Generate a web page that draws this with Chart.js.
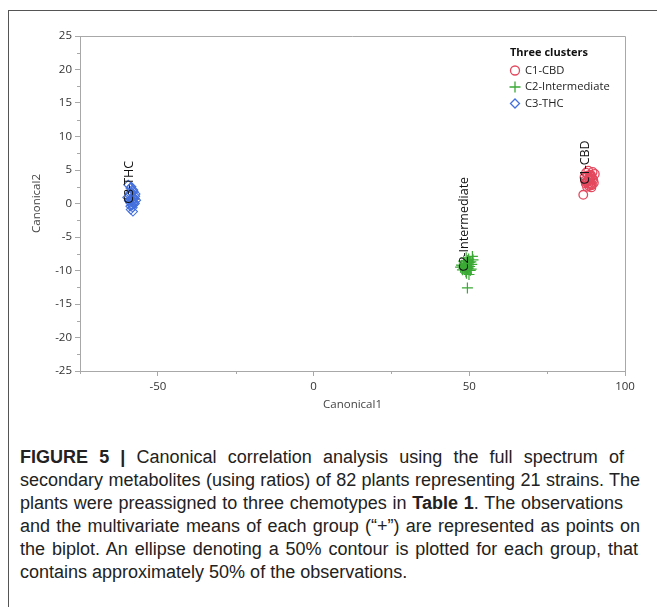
<!DOCTYPE html>
<html>
<head>
<meta charset="utf-8">
<script src="https://cdn.jsdelivr.net/npm/chart.js@4"></script>
<style>
  body { margin: 0; background: #fff; width: 657px; height: 607px; overflow: hidden; position: relative; }
  #frame { position: absolute; left: 8px; top: 10px; width: 700px; height: 700px; border: 1.5px solid #555; }
  #wrap { position: absolute; left: 0; top: 0; width: 657px; height: 425px; }
  #caption {
    position: absolute; left: 20px; top: 446px;
    font-family: "Liberation Sans", Arial, sans-serif; font-size: 18px; line-height: 23px;
    color: #222; white-space: nowrap;
  }
  #caption span { display: block; text-align: justify; text-align-last: justify; }
  #caption span.last { text-align-last: left; }
</style>
</head>
<body>
<div id="frame"></div>
<div id="wrap"><canvas id="cca"></canvas></div>
<div id="caption">
<span style="width:604px"><b>FIGURE 5 |</b> Canonical correlation analysis using the full spectrum of</span>
<span style="width:620px">secondary metabolites (using ratios) of 82 plants representing 21 strains. The</span>
<span style="width:603px">plants were preassigned to three chemotypes in <b>Table 1</b>. The observations</span>
<span style="width:620px">and the multivariate means of each group (“+”) are represented as points on</span>
<span style="width:618px">the biplot. An ellipse denoting a 50% contour is plotted for each group, that</span>
<span class="last">contains approximately 50% of the observations.</span>
</div>
<script>
// valores (aproximados)
const groupNames = ['C1-CBD', 'C2-Intermediate', 'C3-THC'];
const meanLabels = ['C1-CBD', 'C2-Intermediate', 'C3-THC'];

const cbdX = [87.5, 88.2, 89.0, 89.6, 90.3, 87.0, 88.6, 89.3, 88.0, 87.4, 88.9, 89.8, 88.4, 87.8, 89.1, 88.5, 90.0, 87.2, 88.8, 89.5, 88.1, 87.6, 89.2, 88.3, 88.7, 89.4, 86.6];
const cbdY = [4.6, 4.9, 4.3, 4.7, 4.4, 3.9, 3.6, 4.0, 3.3, 3.0, 2.9, 3.5, 2.6, 2.5, 2.7, 3.8, 3.1, 3.4, 4.1, 3.7, 4.2, 3.2, 2.4, 3.0, 3.5, 2.8, 1.3];

const intX = [47.5, 48.2, 49.0, 49.8, 50.5, 51.0, 48.6, 49.3, 50.1, 47.8, 48.9, 49.6, 50.8, 48.4, 49.1, 50.3, 47.2, 48.0, 49.5, 50.6, 48.7, 49.9, 51.2, 48.3, 49.4, 50.0, 49.4];
const intY = [-9.2, -8.6, -8.1, -8.3, -8.7, -7.9, -9.6, -9.0, -9.4, -9.9, -10.2, -9.7, -9.1, -8.9, -10.4, -10.0, -9.5, -9.3, -8.5, -9.8, -9.1, -10.6, -8.4, -9.7, -9.5, -8.8, -12.6];

const thcX = [-59.5, -58.8, -57.9, -58.4, -57.2, -59.1, -58.0, -57.5, -58.6, -59.8, -57.0, -58.2, -58.9, -57.7, -58.3, -59.3, -57.4, -58.1, -58.7, -57.8, -58.5, -59.0, -57.6, -58.0, -58.4, -57.3, -58.8, -58.2];
const thcY = [2.8, 2.3, 2.0, 1.6, 1.4, 1.2, 1.0, 0.8, 0.6, 0.9, 0.5, 0.3, 0.1, -0.1, -0.3, 0.4, 0.0, -0.6, -0.9, 1.8, 2.5, 1.5, 0.2, -1.2, 0.7, 1.1, -0.4, 0.9];

const meanX = [88.2, 49.3, -58.2];
const meanY = [3.6, -9.4, 0.7];

const xTicks = [-50, 0, 50, 100];
const xMinor = [-75, -25, 25, 75];
const yTicks = [-25, -20, -15, -10, -5, 0, 5, 10, 15, 20, 25];
const yMinor = [-22.5, -17.5, -12.5, -7.5, -2.5, 2.5, 7.5, 12.5, 17.5, 22.5];

const colors = { cbd: '#e4485e', int: '#3aaa35', thc: '#4470dd', axis: '#a8a8a8', text: '#333' };
const tickFont = { family: '"Open Sans", "Noto Sans", sans-serif', size: 11.5 };

function pts(xs, ys) {
    return xs.map((x, i) => ({ x: x, y: ys[i] }));
}

// moldura do gráfico, ticks menores, rótulos e legenda
const extras = {
    id: 'extras',
    afterDraw(chart) {
        const c = chart.ctx;
        const a = chart.chartArea;
        const sx = chart.scales.x, sy = chart.scales.y;
        c.save();
        c.strokeStyle = colors.axis;
        c.lineWidth = 1;
        c.beginPath();
        c.moveTo(a.left, a.top + 0.5); c.lineTo(a.right + 0.5, a.top + 0.5);
        c.lineTo(a.right + 0.5, a.bottom);
        xMinor.forEach(v => {
            const p = Math.round(sx.getPixelForValue(v)) + 0.5;
            c.moveTo(p, a.bottom); c.lineTo(p, a.bottom + 3);
        });
        yMinor.forEach(v => {
            const p = Math.round(sy.getPixelForValue(v)) + 0.5;
            c.moveTo(a.left, p); c.lineTo(a.left - 3, p);
        });
        c.stroke();

        // rótulos verticais nas médias
        c.fillStyle = '#111';
        c.font = '12.5px "Open Sans", "Noto Sans", sans-serif';
        c.textAlign = 'left';
        c.textBaseline = 'alphabetic';
        meanLabels.forEach((t, i) => {
            const px = sx.getPixelForValue(meanX[i]);
            const py = sy.getPixelForValue(meanY[i]);
            c.save();
            c.translate(px + 1, py + 5);
            c.rotate(-Math.PI / 2);
            c.fillText(t, 0, 0);
            c.restore();
        });

        // legenda
        const lx = a.right - 115, ly = a.top + 17;
        c.fillStyle = '#111';
        c.font = 'bold 11px "Open Sans", "Noto Sans", sans-serif';
        c.textBaseline = 'middle';
        c.fillText('Three clusters', lx, ly);
        c.font = '11.2px "Open Sans", "Noto Sans", sans-serif';
        const styles = ['circle', 'cross', 'rectRot'];
        const cols = [colors.cbd, colors.int, colors.thc];
        groupNames.forEach((n, i) => {
            const yy = ly + 17.5 + i * 16.5;
            c.strokeStyle = cols[i];
            c.fillStyle = 'rgba(0,0,0,0)';
            c.lineWidth = 1.3;
            Chart.helpers.drawPoint(c, { pointStyle: styles[i], radius: styles[i] === 'cross' ? 5.5 : 4.5, rotation: 0, borderWidth: 1.3 }, lx + 5, yy);
            c.fillStyle = '#222';
            c.fillText(n, lx + 15, yy);
        });
        c.restore();
    }
};

new Chart(document.getElementById('cca'), {
    type: 'scatter',
    data: {
        datasets: [
            { label: 'C3-THC', data: pts(thcX, thcY), pointStyle: 'rectRot', pointRadius: 4.5, borderColor: colors.thc, backgroundColor: 'rgba(0,0,0,0)', borderWidth: 1.1 },
            { label: 'C2-Intermediate', data: pts(intX, intY), pointStyle: 'cross', pointRadius: 5.5, borderColor: colors.int, backgroundColor: colors.int, borderWidth: 1.2 },
            { label: 'C1-CBD', data: pts(cbdX, cbdY), pointStyle: 'circle', pointRadius: 4.3, borderColor: colors.cbd, backgroundColor: 'rgba(0,0,0,0)', borderWidth: 1.3 },
            { label: 'means', data: pts(meanX, meanY), pointStyle: 'cross', pointRadius: 7, borderColor: '#000', backgroundColor: '#000', borderWidth: 1.5 }
        ]
    },
    options: {
        responsive: true,
        maintainAspectRatio: false,
        animation: false,
        layout: { padding: { top: 36, right: 32, left: 0, bottom: 0 } },
        plugins: { legend: { display: false }, tooltip: { enabled: false } },
        scales: {
            x: {
                type: 'linear', min: -75, max: 100,
                afterBuildTicks: s => { s.ticks = xTicks.map(v => ({ value: v })); },
                afterFit: s => { s.height = 54; },
                grid: { drawOnChartArea: false, tickLength: 5, color: colors.axis },
                border: { color: colors.axis },
                ticks: { color: colors.text, font: tickFont, padding: 4, maxRotation: 0 },
                title: { display: true, text: 'Canonical1', color: '#444', font: tickFont, padding: { bottom: 13 } }
            },
            y: {
                type: 'linear', min: -25, max: 25,
                afterBuildTicks: s => { s.ticks = yTicks.map(v => ({ value: v })); },
                afterFit: s => { s.width = 80; },
                grid: { drawOnChartArea: false, tickLength: 5, color: colors.axis },
                border: { color: colors.axis },
                ticks: { color: colors.text, font: tickFont, padding: 3 },
                title: { display: true, text: 'Canonical2', color: '#444', font: tickFont, padding: { top: 30 } }
            }
        }
    },
    plugins: [extras]
});
</script>
</body>
</html>
